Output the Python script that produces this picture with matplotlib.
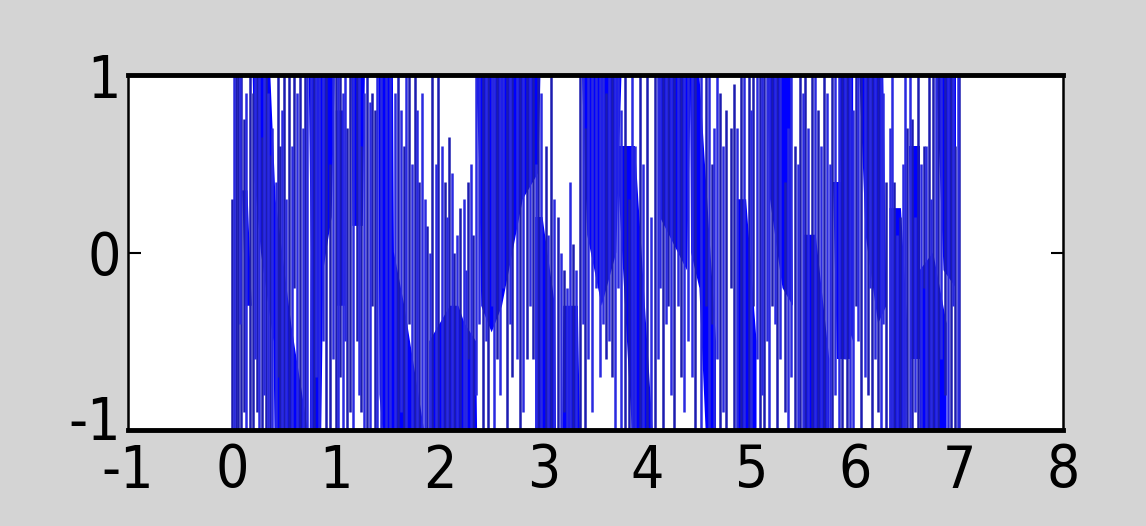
import matplotlib
matplotlib.use("Agg")
import matplotlib.pyplot as plt
import matplotlib.transforms as mtransforms
from matplotlib import font_manager

# ---- data (data coordinates) ----
# vertical strokes of the signal: position, lower end, upper end
stroke_x = [0.00, 0.04, 0.06, 0.09, 0.12, 0.17, 0.20, 0.24, 0.29, 0.33, 0.37, 0.44, 0.46, 0.50,
            0.55, 0.60, 0.66, 0.70, 0.79, 0.91, 0.94, 1.00, 1.04, 1.11, 1.14, 1.20, 1.24, 1.30,
            1.35, 1.38, 1.60, 1.66, 1.70, 1.76, 1.80, 1.88, 1.93, 1.98, 2.05, 2.09, 2.14, 2.20,
            2.27, 2.32, 2.42, 2.47, 2.55, 2.65, 2.70, 2.77, 2.84, 2.90, 2.95, 3.02, 3.07, 3.14,
            3.20, 3.28, 3.35, 3.40, 3.60, 3.66, 3.78, 3.82, 3.93, 4.00, 4.07, 4.15, 4.20, 4.26,
            4.32, 4.46, 4.56, 4.62, 4.70, 4.76, 4.80, 4.83, 4.90, 4.98, 5.02, 5.08, 5.12, 5.20,
            5.25, 5.32, 5.42, 5.47, 5.52, 5.58, 5.64, 5.70, 5.78, 5.87, 5.92, 6.01, 6.06, 6.12,
            6.16, 6.22, 6.30, 6.37, 6.43, 6.50, 6.55, 6.60, 6.66, 6.71, 6.75, 6.80, 6.86, 6.92,
            6.96, 7.00]
stroke_lo = [-1, -1, -1, -1, -0.9, -1, -1, -0.9, -1, -1, -1, -0.7, -1, -1,
             -1, -0.2, -1, -1, -1, -1, -1, -1, -0.7, -1, -0.9, -0.5, -0.9, -1,
             -0.3, -1, -1, -1, -0.4, -1, -1, -1, -1, -1, -1, -1, -1, -1,
             -0.6, -1, -1, -1, -0.6, -1, -0.7, -1, -0.6, -0.6, -1, -1, -1, -1,
             -0.9, -1, -1, -1, -0.6, -0.7, -1, -1, -1, -1, -1, -1, -0.3, -1,
             -0.7, -1, -0.3, -0.4, -1, -1, -0.2, -1, -1, -1, -0.3, -1, -1, -0.3,
             -1, -0.9, -1, -1, -1, -1, -1, -1, -1, -1, -1, -0.3, -1, -0.8,
             -1, -0.9, -1, -1, -1, -1, -1, -1, -0.2, -1, -1, -1, -0.8, -1,
             -1, -1]
stroke_hi = [0.30, 1, 1, 1, 0.75, 1, 0.9, 1, 0.65, 1, 0.55, 1, 0.6, 1,
             1, 1, 1, 1, 1, 1, 0.5, 1, 1, 0.7, 1, 1, 0.6, 1,
             0.9, 0.8, 1, 0.6, 1, 1, 0.4, 0.15, 1, 1, 0.4, 0.65, 0.0, 0.25,
             0.4, 0.1, 1, 1, 1, 1, 1, 1, 1, 1, 1, 0.6, 1, 0.2,
             -0.1, 0.05, 1, 0.7, 0.9, 1, 1, 0.3, 1, 1, 1, 1, 1, 1,
             1, 1, 1, 0.5, 0.9, 0.8, 0.7, 0.95, 1, 1, 1, 1, 1, 1,
             1, 0.4, 0.6, 1, 1, 1, 0.8, 1, 1, 1, 1, 1, 1, 1,
             1, 1, 0.4, 0.4, 0.2, 0.7, 0.75, 1, 0.6, 1, 1, 1, 1, 1,
             0.6, 1]

# further strokes filling the denser parts
extra_x = [0.02, 0.08, 0.14, 0.22, 0.26, 0.31, 0.35, 0.39, 0.42, 0.48, 0.52, 0.58, 0.63, 0.68,
           0.72, 0.76, 0.81, 0.84, 0.88, 0.97, 1.02, 1.07, 1.09, 1.17, 1.22, 1.27, 1.33, 1.40,
           1.44, 1.48, 1.52, 1.57, 1.63, 1.68, 1.73, 1.78, 1.83, 1.86, 1.91, 1.96, 2.02, 2.07,
           2.12, 2.17, 2.23, 2.25, 2.30, 2.35, 2.38, 2.45, 2.50, 2.52, 2.58, 2.61, 2.68, 2.74,
           2.80, 2.87, 2.93, 2.98, 3.04, 3.10, 3.17, 3.23, 3.25, 3.31, 3.38, 3.43, 3.47, 3.50,
           3.54, 3.57, 3.63, 3.69, 3.72, 3.75, 3.85, 3.88, 3.96, 4.03, 4.10, 4.12, 4.18, 4.23,
           4.29, 4.35, 4.39, 4.43, 4.52, 4.59, 4.64, 4.67, 4.73, 4.86, 4.93, 5.00, 5.05, 5.10,
           5.15, 5.17, 5.23, 5.28, 5.35, 5.38, 5.45, 5.50, 5.55, 5.61, 5.67, 5.73, 5.76, 5.81,
           5.84, 5.90, 5.95, 5.98, 6.03, 6.09, 6.14, 6.19, 6.25, 6.27, 6.33, 6.35, 6.40, 6.46,
           6.48, 6.53, 6.58, 6.63, 6.68, 6.73, 6.78, 6.83, 6.89, 6.94, 6.99]
extra_lo = [-1, -0.4, -1, -0.6, -1, -0.8, -1, -1, -1, -1, -1, -1, -1, -1,
            -1, -1, -0.7, -1, -0.5, -0.6, -1, -1, -0.5, -1, -0.8, -1, -1, -1,
            -1, -1, -1, -1, -0.9, -1, -1, -1, -1, -1, -1, -1, -1, -1,
            -1, -1, -1, -1, -1, -0.8, -0.4, -0.5, -0.3, -1, -0.8, -0.2, -0.4, -0.6,
            -0.9, -0.3, -1, -1, -1, -1, -1, -1, -1, -1, -0.4, -0.6, -0.9, -0.2,
            -0.7, -0.4, -0.5, -1, -0.2, -1, -1, -1, -1, -1, -0.6, -0.2, -0.4, -0.8,
            -0.3, -0.9, -0.5, -0.7, -1, -1, -1, -0.6, -0.9, -1, -1, -1, -0.6, -0.8,
            -0.5, -1, -0.4, -0.6, -1, -0.7, -1, -1, -1, -1, -1, -1, -1, -0.8,
            -1, -0.6, -1, -1, -0.5, -0.7, -0.2, -0.6, -1, -0.4, -1, -1, -1, -1,
            -1, -1, -0.9, -1, -1, -1, -1, -0.6, -1, -0.3, -1]
extra_hi = [1, 1, 0.9, 1, 1, 1, 0.9, 0.7, 0.4, 0.8, 0.3, 0.6, 0.9, 0.7,
            1, 1, 1, 1, 1, 1, 1, 0.9, 1, 1, 1, 0.9, 0.85, 1,
            1, 1, 1, 0.9, 0.8, 1, 0.5, 0.8, 0.9, 0.3, 0.0, 0.5, 0.6, 0.2,
            0.45, 0.1, 0.3, -0.1, 0.5, 1, 1, 1, 1, 1, 1, 1, 1, 1,
            1, 1, 0.5, 0.9, 0.1, 0.3, 0.0, -0.2, 0.4, -0.1, 1, 1, 1, 1,
            1, 1, 1, 1, 1, 0.8, 1, 0.6, 0.5, 0.2, 1, 1, 1, 1,
            1, 1, 1, 1, 1, 1, 0.7, 1, 0.6, 0.7, 1, 0.8, 1, 1,
            1, 1, 1, 1, 0.7, 1, 0.5, 0.9, 0.7, 1, 0.6, 0.9, 0.5, 1,
            1, 1, 1, 0.8, 1, 1, 1, 1, 1, 0.9, 0.7, 1, 0.1, 0.5,
            1, 1, 0.2, 0.5, 0.6, 0.3, 1, 1, 1, 1, 1]

# dense (solid-looking) bands of the signal: outline vertices
band_x = [
    [0.20, 0.37, 0.42, 0.57, 0.73, 0.41, 0.40, 0.28, 0.22],
    [0.10, 0.15, 0.19, 0.13],
    [0.74, 0.99, 0.96, 0.88, 0.86, 0.75, 0.76],
    [1.00, 1.08, 1.09, 1.01],
    [1.15, 1.28, 1.26, 1.16],
    [1.41, 1.55, 1.56, 1.66, 1.85, 1.45, 1.42],
    [1.90, 2.00, 2.10, 2.18, 2.24, 2.35, 2.36, 1.90],
    [2.35, 2.97, 2.95, 2.80, 2.60, 2.50, 2.40, 2.38],
    [2.92, 2.99, 3.11, 3.12, 2.92],
    [3.19, 3.33, 3.35, 3.18],
    [3.37, 3.75, 3.70, 3.56, 3.42],
    [3.70, 3.88, 4.05, 3.85],
    [4.10, 4.42, 4.38, 4.12],
    [4.41, 4.50, 4.66, 4.66, 4.56, 4.50, 4.42],
    [4.86, 4.95, 5.05, 5.05, 4.86],
    [5.15, 5.38, 5.40, 5.30, 5.18],
    [5.50, 5.62, 5.75, 5.75, 5.50],
    [5.79, 5.95, 5.95, 5.82],
    [5.85, 5.98, 5.98, 5.86],
    [6.04, 6.27, 6.30, 6.22, 6.10],
    [6.33, 6.44, 6.50, 6.49, 6.33],
    [6.52, 6.62, 6.62, 6.54],
    [6.62, 6.75, 6.88, 6.88, 6.62],
    [6.78, 6.97, 6.97, 6.85],
]
band_y = [
    [1, 1, 0.3, -0.4, -1, -1, -0.5, 0.0, 0.4],
    [0.35, 0.35, -0.3, -0.3],
    [1, 1, 0.2, -0.1, -1, -1, 0.0],
    [0.8, 0.8, -0.3, -0.3],
    [1, 1, 0.15, 0.15],
    [1, 1, 0.0, -0.3, -1, -1, -0.8],
    [-0.5, -0.4, -0.3, -0.3, -0.4, -0.5, -1, -1],
    [1, 1, 0.45, 0.3, -0.3, -0.45, -0.3, 0.5],
    [0.2, 0.2, -0.3, -1, -1],
    [-0.3, -0.3, -1, -1],
    [1, 1, 0.0, -0.3, 0.1],
    [0.6, 0.6, -1, -1],
    [1, 1, -0.1, 0.2],
    [1, 1, -0.5, -1, -1, -0.2, 0.0],
    [0.3, 0.3, -0.5, -1, -1],
    [1, 1, -0.3, -0.2, 0.3],
    [0.1, 0.1, -0.6, -1, -1],
    [0.4, 0.4, -0.6, -0.6],
    [1, 1, -0.5, -0.3],
    [1, 1, -0.3, -0.4, 0.1],
    [0.25, 0.25, -0.4, -1, -1],
    [0.6, 0.6, -0.6, -0.6],
    [-0.1, 0.0, -0.4, -1, -1],
    [1, 1, -0.2, -0.1],
]

x_ticks = [-1, 0, 1, 2, 3, 4, 5, 6, 7, 8]
y_ticks = [-1, 0, 1]

# ---- figure ----
fig = plt.figure(figsize=(11.46, 5.26), dpi=100, facecolor="#d4d4d4")
ax = fig.add_axes([128 / 1146, (526 - 430) / 526, (1063 - 128) / 1146, (430 - 75) / 526])
ax.set_facecolor("white")

for bx, by in zip(band_x, band_y):
    ax.fill(bx, by, color="#0000ff", lw=0, zorder=2)

ax.vlines(stroke_x, stroke_lo, stroke_hi, colors="#1c1cb0", lw=1.8, zorder=3)
ax.vlines(extra_x, extra_lo, extra_hi, colors="#2a2ae0", lw=1.8, zorder=3)

ax.set_xlim(-1, 8)
ax.set_ylim(-1, 1)
ax.set_xticks(x_ticks)
ax.set_yticks(y_ticks)

fp = font_manager.FontProperties(family="DejaVu Sans", stretch="condensed", size=42)
ax.set_xticklabels([str(v) for v in x_ticks], fontproperties=fp)
ax.set_yticklabels([str(v) for v in y_ticks], fontproperties=fp)
ax.tick_params(axis="y", direction="in", length=9, width=1.5, right=True, pad=5,
               colors="black")
ax.tick_params(axis="x", direction="in", length=0, pad=9)

# the lowest y label sits a little above the -1 line, as in the reference
ylabs = ax.get_yticklabels()
ylabs[0].set_transform(ylabs[0].get_transform() +
                       mtransforms.ScaledTranslation(0, 12 / 100, fig.dpi_scale_trans))

for side in ("top", "bottom"):
    ax.spines[side].set_linewidth(3.5)
for side in ("left", "right"):
    ax.spines[side].set_linewidth(1.8)
for s in ax.spines.values():
    s.set_zorder(5)

fig.savefig("out.png", dpi=100, facecolor=fig.get_facecolor())
